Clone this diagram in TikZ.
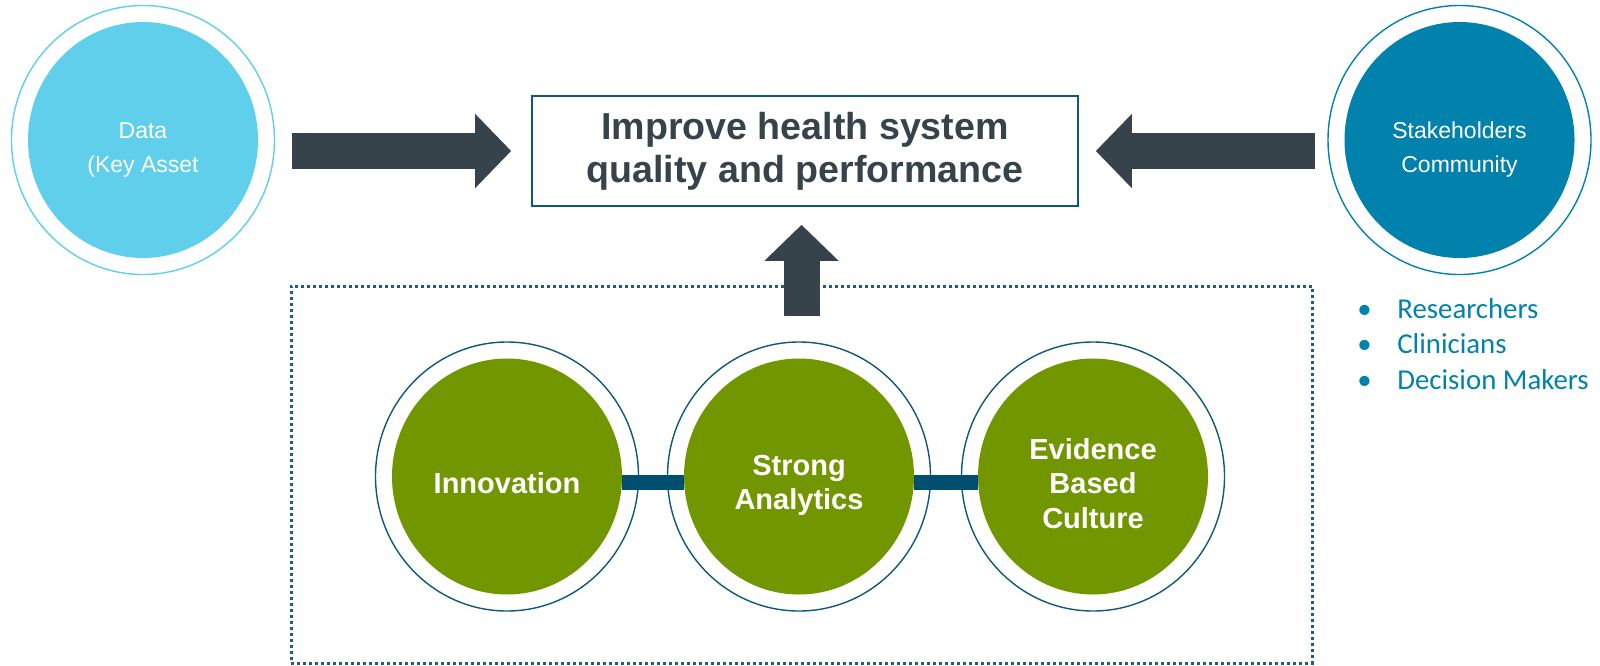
\documentclass[tikz,border=0pt]{standalone}
\usepackage{fontspec}
\setmainfont{Liberation Sans}
\newfontfamily\calibri{Carlito}
\usetikzlibrary{arrows.meta,shapes.geometric}

\definecolor{datablue}{HTML}{5FCFEB}
\definecolor{stakeblue}{HTML}{0082AC}
\definecolor{pillargreen}{HTML}{719600}
\definecolor{ringblue}{HTML}{0E5878}
\definecolor{barblue}{HTML}{004E70}
\definecolor{slate}{HTML}{36434B}
\definecolor{dotblue}{HTML}{1B5E80}

\newcommand\goalfont{\bfseries\fontsize{18.8}{21.5}\selectfont}

\tikzset{
	disc/.style={shape=ellipse, minimum width=115pt, minimum height=118pt, inner sep=0pt},
	ring/.style={line width=0.7pt},
	disctext/.style={align=center, text=white, font=\fontsize{11.5}{17}\selectfont},
	pillartext/.style={align=center, text=white, font=\bfseries\fontsize{14.5}{17.25}\selectfont},
	bigarrow/.style={draw=slate, line width=18pt, -{Triangle[width=36pt,length=18pt]}},
	link/.style={draw=barblue, line width=7.5pt}
}

\begin{document}
\begin{tikzpicture}[x=0.5pt, y=-0.5pt]
		\useasboundingbox (0,0) rectangle (1600,665);
		% goal in the middle
		\node[draw=ringblue, line width=0.8pt, minimum width=273pt, minimum height=55pt,
			text=slate, align=center, font=\goalfont] (goal) at (805,151)
			{Improve health system\\quality and performance};
		% dotted frame round the pillars
		\node[draw=dotblue, line width=1.5pt, dash pattern=on 1.5pt off 1.5pt, outer sep=0pt,
			minimum width=510.5pt, minimum height=188.5pt] (pillars) at (801.5,474.5) {};
		% data and stakeholders
		\node[disc, fill=datablue] (data) at (143,140) {};
		\draw[ring, draw=datablue] (data.center) ellipse [x radius=65.75pt, y radius=67.25pt];
		\node[disctext] at ([yshift=-5pt]data.center) {Data\\(Key Asset};
		\node[disc, fill=stakeblue] (stake) at (1459.5,140) {};
		\draw[ring, draw=stakeblue] (stake.center) ellipse [x radius=65.75pt, y radius=67.25pt];
		\node[disctext] at ([yshift=-5pt]stake.center) {Stakeholders\\Community};
		\node[anchor=base west, inner sep=0pt, text=stakeblue,
			font=\calibri\fontsize{14.4}{17.75}\selectfont] (roles) at (1357,318)
			{\begin{tabular}[t]{@{}l@{}}
				\makebox[20pt][l]{\textbullet}Researchers\\
				\makebox[20pt][l]{\textbullet}Clinicians\\
				\makebox[20pt][l]{\textbullet}Decision Makers
			\end{tabular}};
		% the three pillars
		\node[disc, fill=pillargreen] (inno) at (507,476.5) {};
		\draw[ring, draw=ringblue] (inno.center) ellipse [x radius=65.75pt, y radius=67.25pt];
		\node[pillartext] at ([yshift=-3.5pt]inno.center) {Innovation};
		\node[disc, fill=pillargreen] (strong) at (799,476.5) {};
		\draw[ring, draw=ringblue] (strong.center) ellipse [x radius=65.75pt, y radius=67.25pt];
		\node[pillartext] at ([yshift=-4.5pt]strong.center) {Strong\\Analytics};
		\node[disc, fill=pillargreen] (evid) at (1093,476.5) {};
		\draw[ring, draw=ringblue] (evid.center) ellipse [x radius=65.75pt, y radius=67.25pt];
		\node[pillartext] at ([yshift=-3.5pt]evid.center) {Evidence\\Based\\Culture};
		\draw[link] ([yshift=-3pt]inno.east) -- ([yshift=-3pt]strong.west);
		\draw[link] ([yshift=-3pt]strong.east) -- ([yshift=-3pt]evid.west);
		% block arrows into the goal
		\draw[bigarrow, shorten <=17pt, shorten >=10pt] (data.east |- goal.west) -- (goal.west);
		\draw[bigarrow, shorten <=14.5pt, shorten >=8.5pt] (stake.west |- goal.east) -- (goal.east);
		\draw[bigarrow, shorten <=-15pt, shorten >=9pt] (pillars.north) -- (pillars.north |- goal.south);
\end{tikzpicture}
\end{document}
